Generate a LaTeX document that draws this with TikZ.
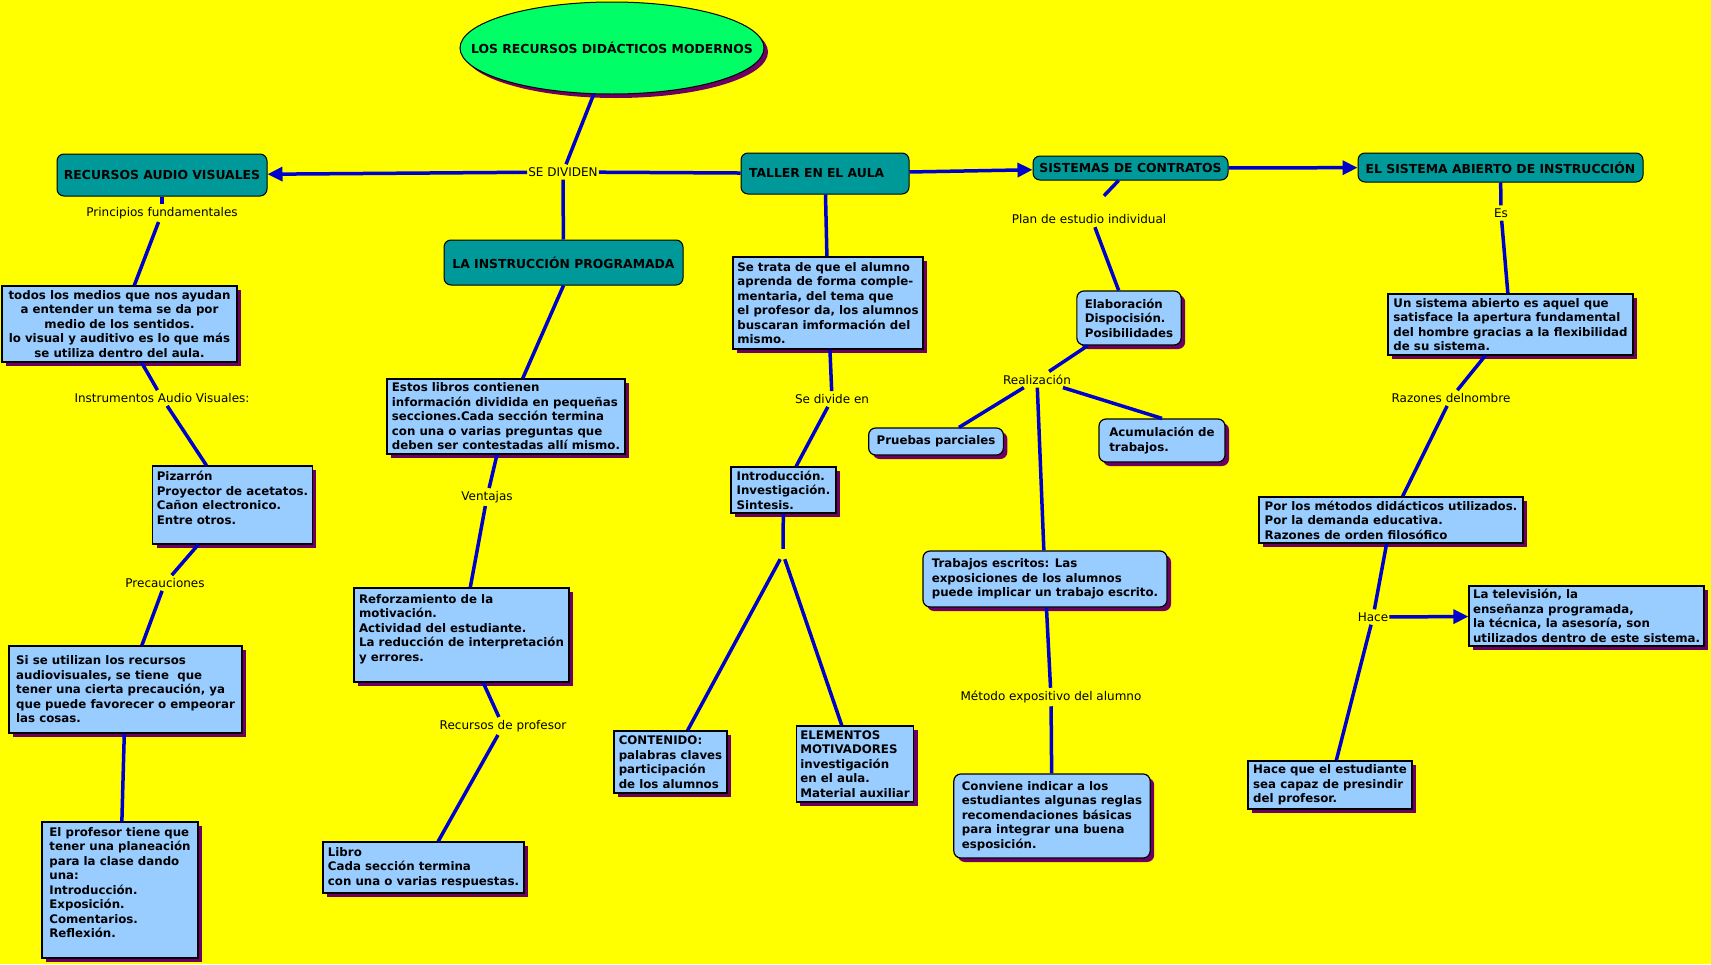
\documentclass[tikz,border=0pt]{standalone}
\usepackage{fontspec}
\setmainfont{DejaVu Sans}
\usetikzlibrary{arrows.meta,shapes.geometric,shadows}

\definecolor{fondo}{RGB}{255,255,0}
\definecolor{verdeazul}{RGB}{0,153,153}
\definecolor{celeste}{RGB}{153,204,255}
\definecolor{morado}{RGB}{110,0,100}
\definecolor{verdeclaro}{RGB}{0,255,102}
\definecolor{azullinea}{RGB}{0,0,205}

\begin{document}
\begin{tikzpicture}[x=1pt,y=-1pt,>={Triangle[length=15pt,width=14pt]},
 font=\fontsize{11.8}{14.5}\selectfont\bfseries,
 sombra/.style={drop shadow={shadow xshift=4pt,shadow yshift=-4pt,fill=morado,opacity=1}},
 raizst/.style={ellipse,draw,line width=1pt,fill=verdeclaro,sombra,inner sep=0pt,font=\fontsize{12.4}{14.5}\selectfont\bfseries},
 tema/.style={draw,line width=1pt,rounded corners=7pt,fill=verdeazul,inner sep=4pt,align=left,font=\fontsize{12.4}{14.5}\selectfont\bfseries},
 cuadro/.style={draw,line width=1.2pt,fill=celeste,sombra,align=left,inner xsep=4pt,inner ysep=2pt},
 redondo/.style={cuadro,rounded corners=7pt,inner xsep=8pt},
 enlace/.style={font=\fontsize{12}{14}\selectfont,inner xsep=1pt,inner ysep=3pt},
 linea/.style={draw=azullinea,line width=3.5pt}]
\useasboundingbox (0,0) rectangle (1711,964);
\fill[fondo] (0,0) rectangle (1711,964);

\node[raizst,minimum width=304pt,minimum height=92pt] (raiz) at (612,48) {\makebox[0pt]{LOS RECURSOS DIDÁCTICOS MODERNOS}};
\node[enlace] (sedividen) at (563,172) {SE DIVIDEN};

% conceptos principales
\node[tema,minimum width=210pt,minimum height=42pt] (recav) at (162,175) {RECURSOS AUDIO VISUALES};
\node[tema,minimum width=239pt,minimum height=45pt] (instr) at (563.5,262.5) {LA INSTRUCCIÓN PROGRAMADA};
\node[tema,minimum height=41pt,text width=152pt,inner xsep=8pt] (taller) at (825,173.5) {TALLER EN EL AULA};
\node[tema,minimum width=195pt,minimum height=24pt] (contratos) at (1130.5,168) {SISTEMAS DE CONTRATOS};
\node[tema,minimum width=285pt,minimum height=29pt] (abierto) at (1500.5,167.5) {EL SISTEMA ABIERTO DE INSTRUCCIÓN};

% recursos audio visuales
\node[enlace] (princ) at (162,213) {Principios fundamentales};
\node[cuadro,align=center,minimum width=235pt,minimum height=76pt] (todos) at (119.5,324) {todos los medios que nos ayudan\\ a entender un tema se da por\\ medio de los sentidos.\\ lo visual y auditivo es lo que más\\ se utiliza dentro del aula.};
\node[enlace] (instrum) at (162,398) {Instrumentos Audio Visuales:};
\node[cuadro,minimum width=159pt,minimum height=78pt] (pizarra) at (232.5,505) {Pizarrón\\Proyector de acetatos.\\Cañon electronico.\\Entre otros.\\ \mbox{}};
\node[enlace] (precauc) at (165,583) {Precauciones};
\node[cuadro,minimum width=233pt,minimum height=87pt] (siuso) at (125.5,689.5) {Si se utilizan los recursos\\audiovisuales, se tiene\ \ que\\tener una cierta precaución, ya\\que puede favorecer o empeorar\\las cosas.};
\node[cuadro,minimum width=156pt,minimum height=136pt] (profesor) at (120,890) {El profesor tiene que\\tener una planeación\\para la clase dando\\una:\\Introducción.\\Exposición.\\Comentarios.\\Reflexión.\\ \mbox{}};

% instruccion programada
\node[cuadro,minimum width=238pt,minimum height=75pt] (libros) at (506,416.5) {Estos libros contienen\\información dividida en pequeñas\\secciones.Cada sección termina\\con una o varias preguntas que\\deben ser contestadas allí mismo.};
\node[enlace] (ventajas) at (487,497) {Ventajas};
\node[cuadro,minimum width=215pt,minimum height=94pt] (reforz) at (461.5,635) {Reforzamiento de la\\motivación.\\Actividad del estudiante.\\La reducción de interpretación\\y errores.\\ \mbox{}};
\node[enlace] (recprof) at (503,726) {Recursos de profesor};
\node[cuadro,minimum width=201pt,minimum height=51pt] (libro) at (423.5,867.5) {Libro\\Cada sección termina\\con una o varias respuestas.};

% taller en el aula
\node[cuadro,minimum width=190pt,minimum height=92pt] (setrata) at (828,303) {Se trata de que el alumno\\aprenda de forma comple-\\mentaria, del tema que\\el profesor da, los alumnos\\buscaran imformación del\\mismo.};
\node[enlace] (sedivide) at (832,399) {Se divide en};
\node[cuadro,minimum width=105pt,minimum height=46pt] (intro) at (783.5,490) {Introducción.\\Investigación.\\Sintesis.};
\node[inner sep=0pt,minimum width=8pt,minimum height=10pt] (bif) at (783,554) {};
\node[cuadro,minimum width=113pt,minimum height=62pt] (contenido) at (670.5,762) {CONTENIDO:\\palabras claves\\participación\\de los alumnos};
\node[cuadro,minimum width=116pt,minimum height=76pt] (elementos) at (855,764) {ELEMENTOS\\MOTIVADORES\\investigación\\en el aula.\\Material auxiliar};

% sistemas de contratos
\node[enlace,text height=24pt,text depth=0pt,inner ysep=3.5pt] (plan) at (1089,211.5) {Plan de estudio individual};
\node[redondo,minimum width=104pt,minimum height=54pt] (elab) at (1129,318) {Elaboración\\Dispocisión.\\Posibilidades};
\node[enlace] (realiz) at (1037,379.5) {Realización};
\node[redondo,minimum width=134pt,minimum height=27pt] (pruebas) at (936,441.5) {Pruebas parciales};
\node[redondo,minimum width=126pt,minimum height=43pt] (acum) at (1162,440.5) {Acumulación de\\trabajos.};
\node[redondo,minimum width=244pt,minimum height=56pt] (escritos) at (1045,579) {Trabajos escritos: Las\\exposiciones de los alumnos\\puede implicar un trabajo escrito.};
\node[enlace] (metodo) at (1051,697) {Método expositivo del alumno};
\node[redondo,minimum width=196pt,minimum height=84pt] (conviene) at (1052,816) {Conviene indicar a los\\estudiantes algunas reglas\\recomendaciones básicas\\para integrar una buena\\esposición.};

% sistema abierto
\node[enlace] (es) at (1501,213) {Es};
\node[cuadro,minimum width=245pt,minimum height=61pt] (unsist) at (1510.5,324.5) {Un sistema abierto es aquel que\\satisface la apertura fundamental\\del hombre gracias a la flexibilidad\\de su sistema.};
\node[enlace] (razones) at (1451,398) {Razones delnombre};
\node[cuadro,minimum width=264pt,minimum height=46pt] (porlos) at (1391,520) {Por los métodos didácticos utilizados.\\Por la demanda educativa.\\Razones de orden filosófico};
\node[enlace] (hace) at (1373,617) {Hace};
\node[cuadro,minimum width=235pt,minimum height=60pt] (tele) at (1586.5,616) {La televisión, la\\enseñanza programada,\\la técnica, la asesoría, son\\utilizados dentro de este sistema.};
\node[cuadro,minimum width=164pt,minimum height=48pt] (haceque) at (1330,785) {Hace que el estudiante\\sea capaz de presindir\\del profesor.};

\draw[linea,->] (sedividen) -- (recav);
\draw[linea,->] (taller) -- (contratos);
\draw[linea,->] (contratos) -- (abierto);
\draw[linea,->] (hace) -- (tele);
\draw[linea] (instr.south) -- (libros);
\draw[linea] (realiz) -- (acum.north);
\foreach \a/\b in {raiz/sedividen,sedividen/taller,sedividen/instr,
  recav/princ,princ/todos,todos/instrum,instrum/pizarra,pizarra/precauc,precauc/siuso,siuso/profesor,
  libros/ventajas,ventajas/reforz,reforz/recprof,recprof/libro,
  taller/setrata,setrata/sedivide,sedivide/intro,intro/bif,bif/contenido,bif/elementos,
  contratos/plan,plan/elab,elab/realiz,realiz/pruebas,realiz/escritos,escritos/metodo,metodo/conviene,
  abierto/es,es/unsist,unsist/razones,razones/porlos,porlos/hace,hace/haceque}
  \draw[linea] (\a) -- (\b);
\end{tikzpicture}
\end{document}
